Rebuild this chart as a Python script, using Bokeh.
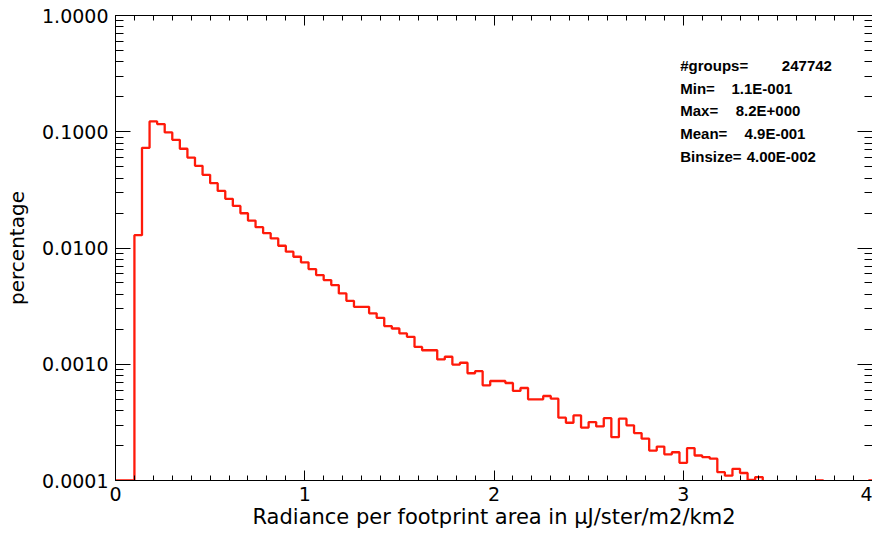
from bokeh.plotting import figure
from bokeh.models import (FixedTicker, CustomJSTickFormatter, LinearAxis, LogAxis, Label)
from bokeh.embed import file_html
from bokeh.resources import INLINE

# ---------------- data ----------------
bin_size = 0.04
first_edge = 0.10
# fraction of groups per bin (bins start at 0.10, width 0.04)
fraction = [
    0.0129, 0.0728, 0.1227, 0.1165, 0.0986, 0.0853, 0.0714, 0.0600, 0.0509, 0.0426,
    0.0361, 0.0310, 0.0265, 0.0230, 0.0199, 0.0172, 0.0151, 0.0134, 0.0121, 0.01046,
    0.00929, 0.00841, 0.00753, 0.00659, 0.00585, 0.00530, 0.00480, 0.00407, 0.00351, 0.00312,
    0.00312, 0.00274, 0.00251, 0.00213, 0.00203, 0.00184, 0.00172, 0.00141, 0.00132, 0.00132,
    0.00110, 0.00116, 0.000994, 0.00103, 0.000837, 0.000871, 0.000659, 0.000718, 0.000718, 0.000690,
    0.000589, 0.000625, 0.000499, 0.000499, 0.000533, 0.000506, 0.000347, 0.000314, 0.000363, 0.000285,
    0.000318, 0.000292, 0.000344, 0.000236, 0.000340, 0.000298, 0.000256, 0.000229, 0.000181, 0.000196,
    0.000168, 0.000175, 0.000142, 0.000190, 0.000164, 0.000159, 0.000154, 0.000118, 0.000110, 0.000126,
    0.000116, 0.000101, 0.000107, 0, 0, 0, 0, 0, 0, 0,
    0.0001, 0, 0, 0, 0, 0, 0, 0.0001,
]
underflow_start = 0.0
underflow_value = 0.0001

x_ticks = [0, 1, 2, 3, 4]
y_ticks = [0.0001, 0.001, 0.01, 0.1, 1.0]

stats_names = ["#groups=", "Min=", "Max=", "Mean=", "Binsize="]
stats_values = ["247742", "1.1E-001", "8.2E+000", "4.9E-001", "4.00E-002"]

x_title = "Radiance per footprint area in \u03bcJ/ster/m2/km2"
y_title = "percentage"

# ---------------- build step line ----------------
floor = 1e-6  # empty bins fall below the axis and are clipped
edges = [first_edge + bin_size * i for i in range(len(fraction) + 1)]
xs = [underflow_start] + edges
vals = [v if v > 0 else floor for v in fraction]
ys = [underflow_value] + vals + [vals[-1]]

# ---------------- figure ----------------
p = figure(width=872, height=536, x_range=(0, 4), y_range=(1e-4, 1.0),
           y_axis_type="log", output_backend="svg", toolbar_location=None,
           min_border_left=115, min_border_right=0, min_border_top=15, min_border_bottom=56)
p.xgrid.visible = False
p.ygrid.visible = False
p.outline_line_color = None
p.background_fill_color = "white"
p.border_fill_color = "white"

p.step(xs, ys, mode="after", line_color="#ff1a0a", line_width=2.3)

x_minor = [round(0.1 * i, 1) for i in range(41)]
y_minor = [m * 10.0 ** e for e in range(-4, 0) for m in range(2, 10)]

FONT = "DejaVu Sans"

def style_x(ax, labels=True):
    ax.ticker = FixedTicker(ticks=x_ticks, minor_ticks=x_minor)
    ax.major_tick_in = 10
    ax.major_tick_out = 0
    ax.minor_tick_in = 5
    ax.minor_tick_out = 0
    ax.axis_line_color = "black"
    ax.major_tick_line_color = "black"
    ax.minor_tick_line_color = "black"
    if labels:
        ax.major_label_text_font = FONT
        ax.major_label_text_font_size = "19px"
        ax.major_label_text_color = "black"
        ax.major_label_standoff = 6
    else:
        ax.major_label_text_font_size = "0px"
        ax.major_label_standoff = 0
        ax.formatter = CustomJSTickFormatter(code="return ''")

def style_y(ax, labels=True):
    ax.ticker = FixedTicker(ticks=y_ticks, minor_ticks=y_minor)
    ax.major_tick_in = 15
    ax.major_tick_out = 0
    ax.minor_tick_in = 8
    ax.minor_tick_out = 0
    ax.axis_line_color = "black"
    ax.major_tick_line_color = "black"
    ax.minor_tick_line_color = "black"
    if labels:
        ax.formatter = CustomJSTickFormatter(code="return tick.toFixed(4)")
        ax.major_label_text_font = FONT
        ax.major_label_text_font_size = "19px"
        ax.major_label_text_color = "black"
        ax.major_label_standoff = 7
    else:
        ax.major_label_text_font_size = "0px"
        ax.major_label_standoff = 0
        ax.formatter = CustomJSTickFormatter(code="return ''")

style_x(p.xaxis[0])
style_y(p.yaxis[0])
p.xaxis.axis_label = x_title
p.yaxis.axis_label = y_title
for ax in (p.xaxis[0], p.yaxis[0]):
    ax.axis_label_text_font = FONT
    ax.axis_label_text_font_style = "normal"
    ax.axis_label_text_color = "black"
p.xaxis.axis_label_text_font_size = "21px"
p.yaxis.axis_label_text_font_size = "20px"
p.xaxis.axis_label_standoff = 1
p.yaxis.axis_label_standoff = 10

top_ax = LinearAxis()
style_x(top_ax, labels=False)
p.add_layout(top_ax, "above")
right_ax = LogAxis()
style_y(right_ax, labels=False)
p.add_layout(right_ax, "right")

# statistics annotation
key_x = 2.984
val_x = [3.521, 3.255, 3.277, 3.324, 3.335]
line_y = [0.3707, 0.2349, 0.1518, 0.0961, 0.0609]
for name, val, vx, ly in zip(stats_names, stats_values, val_x, line_y):
    for txt, tx in ((name, key_x), (val, vx)):
        p.add_layout(Label(x=tx, y=ly, text=txt, text_font="Liberation Sans",
                           text_font_style="bold", text_font_size="15px",
                           text_color="black", text_baseline="middle", text_align="left"))

open("out.html", "w").write(file_html(p, INLINE))
